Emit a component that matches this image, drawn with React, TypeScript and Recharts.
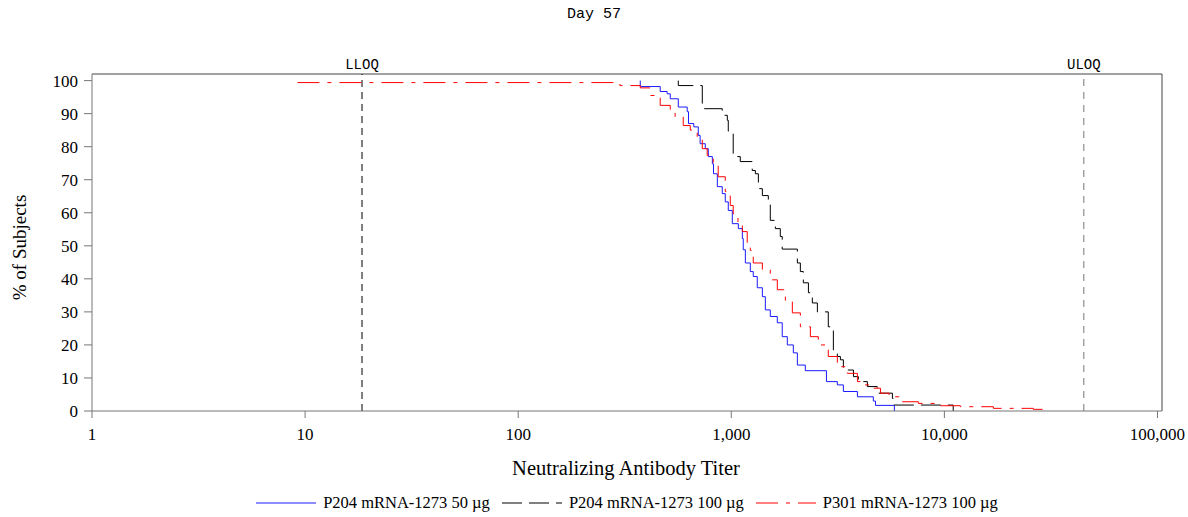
import React from 'react';
import { LineChart, Line, XAxis, YAxis, ReferenceLine, Label } from 'recharts';

// axis ticks
const xTicks = [1, 10, 100, 1000, 10000, 100000];
const yTicks = [0, 10, 20, 30, 40, 50, 60, 70, 80, 90, 100];

// assay limits
const lloq = 18.5;
const uloq = 45118;

// P204 mRNA-1273 50 µg
const lowTiter = [374, 374, 464, 500, 517, 564, 621, 630, 667, 700, 714, 755, 780, 815, 825, 860, 907, 937, 968, 1011, 1079, 1127, 1138, 1164, 1228, 1268, 1324, 1399, 1445, 1524, 1644, 1734, 1832, 1955, 2042, 2225, 2796, 3145, 3357, 3907, 4641, 4750, 5824];
const lowPct = [100, 98.2, 96.7, 96, 94.5, 92, 90.6, 87, 86, 83.4, 80.9, 79.4, 77, 74.8, 71.8, 67.9, 65.8, 63.3, 60.7, 56.7, 55.2, 52.2, 48.8, 44.8, 42.2, 40.7, 37.3, 34.6, 30.6, 28.6, 26.7, 22.5, 20, 17.6, 13.9, 12.2, 8.9, 7.9, 5.9, 4.3, 3.0, 1.7, 0];

// P204 mRNA-1273 100 µg
const highTiter = [564, 564, 731, 907, 958, 968, 1011, 1021, 1102, 1254, 1297, 1340, 1399, 1492, 1524, 1610, 1698, 1734, 2042, 2109, 2178, 2301, 2400, 2535, 2852, 3013, 3013, 3145, 3251, 3357, 3743, 3947, 4350, 4842, 5703, 5765, 11000];
const highPct = [100, 98.5, 91.5, 89.5, 88, 84.7, 84.3, 77, 75.5, 72.8, 71.8, 67.3, 65.2, 63.7, 57.7, 55.2, 52.8, 49, 44.8, 42.2, 38.8, 35.8, 32.7, 30, 25.5, 23.6, 18.5, 16.5, 15.5, 12.4, 10.4, 8.9, 7.4, 5.4, 3.8, 1.8, 0];

// P301 mRNA-1273 100 µg
const p301Titer = [9.2, 300, 374, 417, 464, 517, 545, 595, 642, 692, 731, 771, 823, 868, 937, 989, 1021, 1075, 1127, 1188, 1228, 1268, 1399, 1524, 1644, 1794, 1934, 2109, 2350, 2561, 2852, 3145, 3506, 3907, 4233, 4497, 5012, 5500, 6214, 7549, 9268, 11880, 16980, 26160, 31000];
const p301Pct = [99.4, 98.5, 97.8, 95.5, 92.5, 91.3, 89, 86.4, 85, 82.4, 79.4, 77.4, 74.3, 70.9, 66.4, 62.2, 59.7, 57, 54.3, 50.5, 48.6, 44.8, 42.7, 39.7, 36.7, 33.1, 29.7, 25.5, 22.5, 20, 16.5, 13.4, 11.4, 8.9, 7.9, 6.9, 5.4, 4.3, 2.8, 2.3, 1.6, 1.3, 0.8, 0.5, 0.5];

const toPoints = (xs: number[], ys: number[]) => xs.map((x, i) => ({ x, y: ys[i] }));

const series = [
  { name: 'P204 mRNA-1273 50 µg', color: '#1a1aff', dash: undefined, data: toPoints(lowTiter, lowPct) },
  { name: 'P204 mRNA-1273 100 µg', color: '#000000', dash: '20 7', data: toPoints(highTiter, highPct) },
  { name: 'P301 mRNA-1273 100 µg', color: '#ff0000', dash: '22 8 4 8', data: toPoints(p301Titer, p301Pct) },
];

const serif = '"Liberation Serif", "Times New Roman", serif';
const mono = '"Liberation Mono", "Courier New", monospace';

export default function App() {
  return (
    <div style={{ position: 'absolute', left: 0, top: 0, width: 1188, height: 517, background: '#fff' }}>
      <div style={{ position: 'absolute', top: 6, width: 1188, textAlign: 'center', fontFamily: mono, fontSize: 15 }}>
        Day 57
      </div>

      <LineChart width={1188} height={517} margin={{ top: 74, right: 26, bottom: 46, left: 32 }}>
        <XAxis
          dataKey="x"
          type="number"
          scale="log"
          domain={[1, 105000]}
          ticks={xTicks}
          allowDataOverflow
          height={60}
          tickSize={7}
          tickMargin={10}
          stroke="#777"
          tick={{ fill: '#000', fontFamily: serif, fontSize: 17 }}
          tickFormatter={(v: number) => v.toLocaleString('en-US')}
        >
          <Label
            content={({ viewBox }: any) => (
              <text x={viewBox.x + viewBox.width / 2 - 1} y={475} textAnchor="middle" fontFamily={serif} fontSize={20.5} fill="#000">
                Neutralizing Antibody Titer
              </text>
            )}
          />
        </XAxis>
        <YAxis
          type="number"
          domain={[0, 102]}
          ticks={yTicks}
          width={60}
          tickSize={8}
          tickMargin={6}
          stroke="#777"
          tick={{ fill: '#000', fontFamily: serif, fontSize: 17 }}
        >
          <Label
            content={({ viewBox }: any) => {
              const cy = viewBox.y + viewBox.height / 2 + 5;
              return (
                <text x={26} y={cy} transform={`rotate(-90 26 ${cy})`} textAnchor="middle" fontFamily={serif} fontSize={19} fill="#000">
                  % of Subjects
                </text>
              );
            }}
          />
        </YAxis>

        {/* frame */}
        <ReferenceLine y={102} stroke="#444" />
        <ReferenceLine x={105000} stroke="#444" />

        <ReferenceLine
          x={lloq}
          stroke="#000"
          strokeDasharray="7 5"
          label={{ value: 'LLOQ', position: 'top', offset: 5, fill: '#000', fontFamily: mono, fontSize: 14 }}
        />
        <ReferenceLine
          x={uloq}
          stroke="#777"
          strokeDasharray="7 6"
          label={{ value: 'ULOQ', position: 'top', offset: 5, fill: '#000', fontFamily: mono, fontSize: 14 }}
        />

        {series.map((s) => (
          <Line
            key={s.name}
            data={s.data}
            dataKey="y"
            type="stepAfter"
            stroke={s.color}
            strokeWidth={1}
            strokeDasharray={s.dash}
            dot={false}
            activeDot={false}
            isAnimationActive={false}
          />
        ))}
      </LineChart>

      <div
        style={{
          position: 'absolute',
          left: 92,
          width: 1070,
          top: 493,
          display: 'flex',
          justifyContent: 'center',
          alignItems: 'center',
          fontFamily: serif,
          fontSize: 16.5,
        }}
      >
        {series.map((s, i) => (
          <div key={s.name} style={{ display: 'flex', alignItems: 'center', marginRight: i < series.length - 1 ? 12 : 0 }}>
            <svg width={60} height={20} style={{ marginRight: 7 }}>
              <line x1={0} x2={60} y1={10} y2={10} stroke={s.color} strokeWidth={1} strokeDasharray={s.dash} />
            </svg>
            <span>{s.name}</span>
          </div>
        ))}
      </div>
    </div>
  );
}
